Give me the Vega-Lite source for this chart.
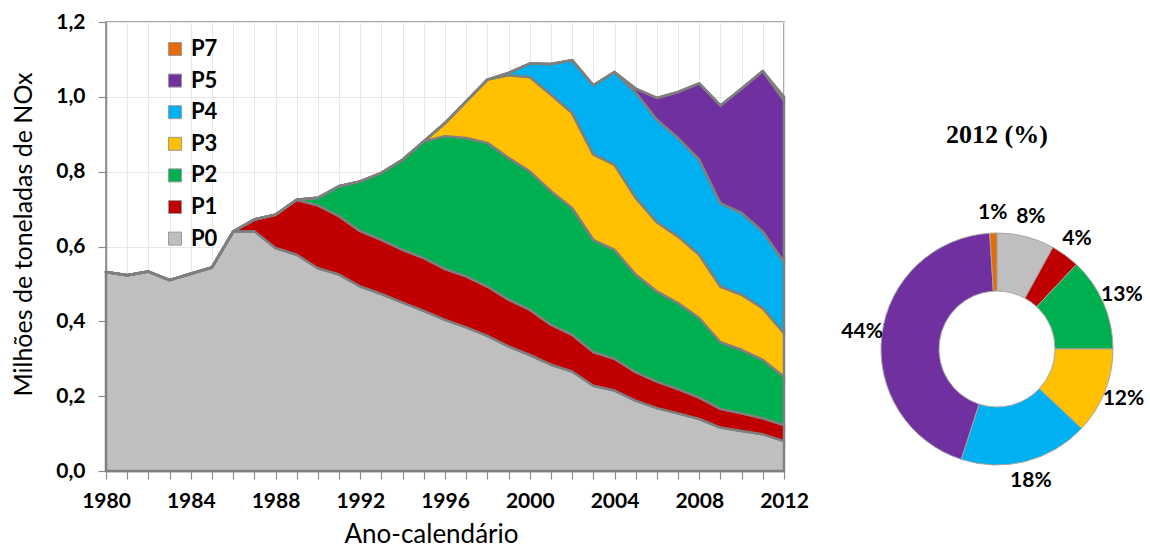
{
  "$schema": "https://vega.github.io/schema/vega-lite/v6.json",
  "background": "white",
  "padding": {"left": 10, "top": 10, "right": 0, "bottom": 0},
  "bounds": "flush",
  "spacing": 68,
  "config": {
    "font": "Lato",
    "view": {"stroke": null},
    "axis": {
      "domainColor": "#8c8c8c",
      "domainWidth": 1.5,
      "tickColor": "#8c8c8c",
      "tickWidth": 1.2,
      "tickSize": 8,
      "gridColor": "#e8e8e8",
      "gridWidth": 1,
      "labelColor": "black",
      "titleColor": "black",
      "labelFont": "Lato",
      "titleFont": "Lato",
      "labelFontSize": 21,
      "labelFontWeight": "bold",
      "titleFontSize": 26,
      "titleFontWeight": "normal"
    }
  },
  "hconcat": [
    {
      "width": 678,
      "height": 449,
      "view": {"stroke": "#8c8c8c", "strokeWidth": 1.5},
      "data": {
        "values": [
          {"year": 1980, "P0": 0.532, "P1": 0, "P2": 0, "P3": 0, "P4": 0, "P5": 0, "P7": 0},
          {"year": 1981, "P0": 0.523, "P1": 0, "P2": 0, "P3": 0, "P4": 0, "P5": 0, "P7": 0},
          {"year": 1982, "P0": 0.533, "P1": 0, "P2": 0, "P3": 0, "P4": 0, "P5": 0, "P7": 0},
          {"year": 1983, "P0": 0.510, "P1": 0, "P2": 0, "P3": 0, "P4": 0, "P5": 0, "P7": 0},
          {"year": 1984, "P0": 0.527, "P1": 0, "P2": 0, "P3": 0, "P4": 0, "P5": 0, "P7": 0},
          {"year": 1985, "P0": 0.544, "P1": 0, "P2": 0, "P3": 0, "P4": 0, "P5": 0, "P7": 0},
          {"year": 1986, "P0": 0.640, "P1": 0, "P2": 0, "P3": 0, "P4": 0, "P5": 0, "P7": 0},
          {"year": 1987, "P0": 0.641, "P1": 0.031, "P2": 0, "P3": 0, "P4": 0, "P5": 0, "P7": 0},
          {"year": 1988, "P0": 0.596, "P1": 0.089, "P2": 0, "P3": 0, "P4": 0, "P5": 0, "P7": 0},
          {"year": 1989, "P0": 0.578, "P1": 0.147, "P2": 0, "P3": 0, "P4": 0, "P5": 0, "P7": 0},
          {"year": 1990, "P0": 0.542, "P1": 0.168, "P2": 0.020, "P3": 0, "P4": 0, "P5": 0, "P7": 0},
          {"year": 1991, "P0": 0.525, "P1": 0.156, "P2": 0.080, "P3": 0, "P4": 0, "P5": 0, "P7": 0},
          {"year": 1992, "P0": 0.493, "P1": 0.148, "P2": 0.133, "P3": 0, "P4": 0, "P5": 0, "P7": 0},
          {"year": 1993, "P0": 0.473, "P1": 0.145, "P2": 0.179, "P3": 0, "P4": 0, "P5": 0, "P7": 0},
          {"year": 1994, "P0": 0.450, "P1": 0.141, "P2": 0.241, "P3": 0, "P4": 0, "P5": 0, "P7": 0},
          {"year": 1995, "P0": 0.428, "P1": 0.141, "P2": 0.312, "P3": 0, "P4": 0, "P5": 0, "P7": 0},
          {"year": 1996, "P0": 0.404, "P1": 0.136, "P2": 0.355, "P3": 0.035, "P4": 0, "P5": 0, "P7": 0},
          {"year": 1997, "P0": 0.384, "P1": 0.136, "P2": 0.370, "P3": 0.098, "P4": 0, "P5": 0, "P7": 0},
          {"year": 1998, "P0": 0.361, "P1": 0.132, "P2": 0.384, "P3": 0.169, "P4": 0, "P5": 0, "P7": 0},
          {"year": 1999, "P0": 0.333, "P1": 0.125, "P2": 0.379, "P3": 0.221, "P4": 0.006, "P5": 0, "P7": 0},
          {"year": 2000, "P0": 0.310, "P1": 0.121, "P2": 0.370, "P3": 0.252, "P4": 0.036, "P5": 0, "P7": 0},
          {"year": 2001, "P0": 0.284, "P1": 0.107, "P2": 0.357, "P3": 0.258, "P4": 0.082, "P5": 0, "P7": 0},
          {"year": 2002, "P0": 0.266, "P1": 0.098, "P2": 0.339, "P3": 0.254, "P4": 0.141, "P5": 0, "P7": 0},
          {"year": 2003, "P0": 0.228, "P1": 0.090, "P2": 0.300, "P3": 0.228, "P4": 0.185, "P5": 0, "P7": 0},
          {"year": 2004, "P0": 0.215, "P1": 0.085, "P2": 0.291, "P3": 0.228, "P4": 0.247, "P5": 0, "P7": 0},
          {"year": 2005, "P0": 0.188, "P1": 0.076, "P2": 0.261, "P3": 0.205, "P4": 0.282, "P5": 0.010, "P7": 0},
          {"year": 2006, "P0": 0.168, "P1": 0.071, "P2": 0.241, "P3": 0.185, "P4": 0.274, "P5": 0.058, "P7": 0},
          {"year": 2007, "P0": 0.154, "P1": 0.065, "P2": 0.230, "P3": 0.178, "P4": 0.263, "P5": 0.123, "P7": 0},
          {"year": 2008, "P0": 0.139, "P1": 0.057, "P2": 0.213, "P3": 0.169, "P4": 0.254, "P5": 0.204, "P7": 0},
          {"year": 2009, "P0": 0.116, "P1": 0.050, "P2": 0.178, "P3": 0.149, "P4": 0.223, "P5": 0.261, "P7": 0},
          {"year": 2010, "P0": 0.107, "P1": 0.047, "P2": 0.170, "P3": 0.147, "P4": 0.219, "P5": 0.332, "P7": 0},
          {"year": 2011, "P0": 0.098, "P1": 0.043, "P2": 0.156, "P3": 0.138, "P4": 0.205, "P5": 0.429, "P7": 0},
          {"year": 2012, "P0": 0.080, "P1": 0.043, "P2": 0.129, "P3": 0.116, "P4": 0.190, "P5": 0.432, "P7": 0.010}
        ]
      },
      "transform": [{"fold": ["P0", "P1", "P2", "P3", "P4", "P5", "P7"], "as": ["cat", "v"]}],
      "mark": {"type": "area", "stroke": "#7f7f7f", "strokeWidth": 2.5, "strokeJoin": "round", "opacity": 1},
      "encoding": {
        "x": {
          "field": "year",
          "type": "quantitative",
          "scale": {"domain": [1980, 2012], "nice": false, "zero": false},
          "axis": {
            "title": "Ano-calendário",
            "values": [1980,1981,1982,1983,1984,1985,1986,1987,1988,1989,1990,1991,1992,1993,1994,1995,1996,1997,1998,1999,2000,2001,2002,2003,2004,2005,2006,2007,2008,2009,2010,2011,2012],
            "format": "d",
            "labelExpr": "datum.value % 4 == 0 ? datum.label : ''",
            "labelOverlap": false,
            "labelFlush": false,
            "labelPadding": 11,
            "titlePadding": 10,
            "titleX": 325,
            "grid": true
          }
        },
        "y": {
          "field": "v",
          "type": "quantitative",
          "stack": "zero",
          "scale": {"domain": [0, 1.2], "nice": false},
          "axis": {
            "title": "Milhões de toneladas de NOx",
            "titleFontSize": 25,
            "titleY": 212,
            "values": [0, 0.2, 0.4, 0.6, 0.8, 1.0, 1.2],
            "labelExpr": "replace(format(datum.value, '.1f'), '.', ',')",
            "labelPadding": 13,
            "titlePadding": 19,
            "grid": true
          }
        },
        "order": {"field": "cat", "type": "nominal", "sort": "ascending"},
        "color": {
          "field": "cat",
          "type": "nominal",
          "scale": {
            "domain": ["P0", "P1", "P2", "P3", "P4", "P5", "P7"],
            "range": ["#bfbfbf", "#c00000", "#00b050", "#ffc000", "#00b0f0", "#7030a0", "#e46c0a"]
          },
          "legend": {
            "title": null,
            "values": ["P7", "P5", "P4", "P3", "P2", "P1", "P0"],
            "orient": "none",
            "legendX": 58,
            "legendY": 16,
            "padding": 0,
            "symbolType": "square",
            "symbolSize": 169,
            "symbolStrokeColor": "#9a9a9a",
            "symbolStrokeWidth": 1,
            "symbolOpacity": 1,
            "labelFont": "Lato",
            "labelFontSize": 22,
            "labelFontWeight": "bold",
            "labelColor": "black",
            "labelOffset": 5,
            "rowPadding": 9.6
          }
        }
      }
    },
    {
      "width": 290,
      "height": 449,
      "data": {
        "values": [
          {"cat": "P0", "pct": 0.08},
          {"cat": "P1", "pct": 0.04},
          {"cat": "P2", "pct": 0.13},
          {"cat": "P3", "pct": 0.12},
          {"cat": "P4", "pct": 0.18},
          {"cat": "P5", "pct": 0.44},
          {"cat": "P7", "pct": 0.01}
        ]
      },
      "encoding": {
        "y": {"datum": 0.326, "type": "quantitative", "scale": {"domain": [0, 1.2], "nice": false}, "axis": null}
      },
      "layer": [
        {
          "mark": {"type": "arc", "outerRadius": 116, "innerRadius": 58, "stroke": "#a6a6a6", "strokeWidth": 1},
          "encoding": {
            "theta": {"field": "pct", "type": "quantitative", "stack": true},
            "order": {"field": "cat", "type": "nominal", "sort": "ascending"},
            "color": {
              "field": "cat",
              "type": "nominal",
              "scale": {
                "domain": ["P0", "P1", "P2", "P3", "P4", "P5", "P7"],
                "range": ["#bfbfbf", "#c00000", "#00b050", "#ffc000", "#00b0f0", "#7030a0", "#e46c0a"]
              },
              "legend": null
            }
          }
        },
        {
          "mark": {"type": "text", "radius": 136, "fontSize": 21, "fontWeight": "bold", "font": "Lato", "color": "black"},
          "encoding": {
            "theta": {"field": "pct", "type": "quantitative", "stack": true},
            "order": {"field": "cat", "type": "nominal", "sort": "ascending"},
            "detail": {"field": "cat", "type": "nominal"},
            "text": {"field": "pct", "type": "quantitative", "format": ".0%"}
          }
        },
        {
          "data": {"values": [{"t": "2012 (%)"}]},
          "mark": {"type": "text", "font": "Liberation Serif", "fontSize": 26, "fontWeight": "bold", "color": "black"},
          "encoding": {
            "y": {"datum": 0.898, "type": "quantitative"},
            "text": {"field": "t", "type": "nominal"}
          }
        }
      ]
    }
  ]
}
